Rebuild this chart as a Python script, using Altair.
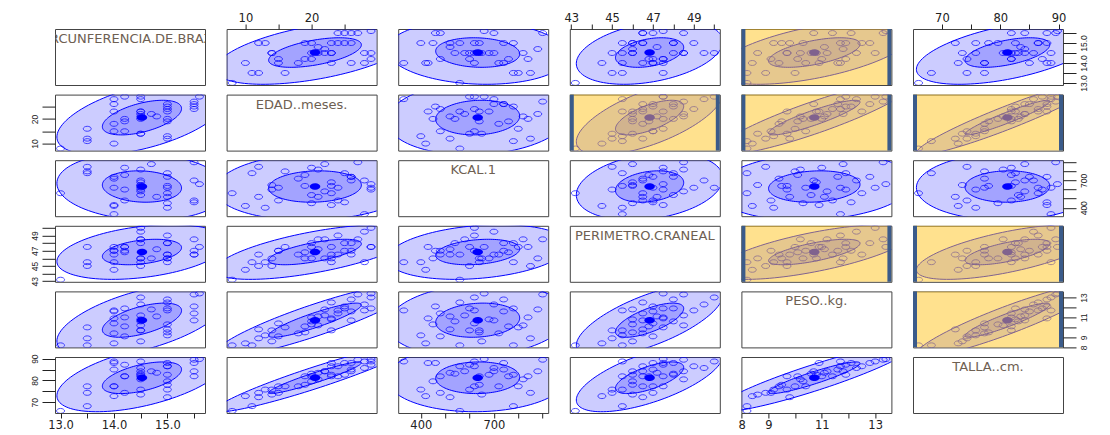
import json
import altair as alt
import numpy as np
import pandas as pd

# ---------------- data ----------------
var_names = ["CIRCUNFERENCIA.DE.BRAZO", "EDAD..meses.", "KCAL.1",
             "PERIMETRO.CRANEAL", "PESO..kg.", "TALLA..cm."]

circunferencia = [13.0, 13.5, 14.0, 14.5, 13.5, 14.2, 15.0, 14.0, 14.5, 15.0,
                  13.5, 14.5, 14.2, 15.0, 14.0, 14.5, 15.5, 14.0, 14.5, 14.2,
                  14.5, 15.5, 14.0, 15.0, 14.7, 14.2, 15.0, 15.5, 14.5, 15.0,
                  15.0, 14.5, 15.5, 15.6, 14.0, 14.5, 15.0, 14.8]
edad = [8, 11, 10, 14, 12, 15, 13, 18, 14, 12,
        16, 23, 19, 20, 15, 20, 26, 23, 23, 20,
        22, 24, 26, 24, 22, 29, 25, 25, 28, 23,
        26, 29, 27, 29, 28, 21, 19, 21]
kcal = [560, 780, 420, 650, 850, 480, 400, 720, 600, 520,
        800, 640, 760, 450, 620, 540, 700, 430, 680, 840,
        580, 480, 740, 620, 880, 600, 780, 460, 700, 560,
        740, 620, 900, 660, 330, 820, 640, 520]
perimetro = [43.2, 45.5, 44.5, 46.0, 45.0, 47.0, 45.5, 46.5, 45.0, 46.5,
             47.5, 45.5, 46.8, 46.0, 47.0, 48.0, 46.5, 47.5, 46.0, 47.5,
             48.5, 46.5, 47.0, 49.0, 46.0, 47.5, 48.0, 47.0, 49.5, 46.5,
             48.0, 50.0, 48.5, 47.5, 45.5, 48.5, 46.0, 47.2]
peso = [8.2, 8.2, 8.4, 8.6, 8.9, 9.1, 9.2, 9.4, 9.7, 9.8,
        10.0, 9.7, 10.1, 10.3, 10.4, 10.6, 10.7, 10.9, 10.8, 11.0,
        11.2, 11.4, 11.6, 11.7, 11.8, 11.9, 11.9, 12.1, 12.3, 12.5,
        12.8, 13.0, 13.3, 13.4, 11.7, 10.2, 9.5, 11.1]
talla = [66.0, 68.2, 72.8, 73.5, 74.3, 74.3, 75.8, 77.3, 75.8, 72.3,
         77.3, 81.9, 81.9, 79.6, 77.3, 83.1, 84.2, 88.0, 82.6, 81.9,
         84.2, 81.9, 85.0, 86.5, 84.2, 87.2, 82.6, 88.0, 85.7, 86.5,
         88.0, 88.7, 89.5, 89.8, 88.7, 80.5, 78.0, 83.5]

columns = [circunferencia, edad, kcal, perimetro, peso, talla]

tick_values = [[13.0, 13.5, 14.0, 14.5, 15.0, 15.5],
               [10, 15, 20, 25],
               [400, 500, 600, 700, 800, 900],
               [43, 44, 45, 46, 47, 48, 49, 50],
               [8, 9, 10, 11, 12, 13],
               [70, 75, 80, 85, 90]]
tick_labels_shown = [[13.0, 14.0, 15.0], [10, 20], [400, 700],
                     [43, 45, 47, 49], [8, 9, 11, 13], [70, 80, 90]]
label_formats = [".1f", "d", "d", "d", "d", "d"]

highlighted_panels = [(0, 4), (1, 3), (1, 4), (1, 5), (3, 4), (3, 5), (4, 5)]
ellipse_radii = [2.55, 1.187]   # 95% and 50% data ellipses

# ---------------- styling ----------------
W, H = 150, 56
BLUE = "#0000FF"
YELLOW = "#FFC31E"
BAR = "#3B5B8A"
PT_SHAPE = "M -1 0 A 1 0.62 0 1 0 1 0 A 1 0.62 0 1 0 -1 0 Z"


def domain(v):
    lo, hi = float(min(v)), float(max(v))
    r = hi - lo
    return [lo - 0.04 * r, hi + 0.04 * r]


domains = [domain(c) for c in columns]


def label_expr(k):
    return (f"indexof({json.dumps(tick_labels_shown[k])}, datum.value) >= 0 ? "
            f"format(datum.value, '{label_formats[k]}') : ''")


def x_axis(k, orient):
    return alt.Axis(orient=orient, values=tick_values[k], labelExpr=label_expr(k),
                    tickSize=5, domain=False, grid=False, title=None,
                    labelFont="DejaVu Sans", labelFontSize=11.5, labelColor="#222",
                    tickColor="#222", labelPadding=1, labelFlush=False,
                    labelOverlap=False)


def y_axis(k, orient):
    return alt.Axis(orient=orient, values=tick_values[k], labelExpr=label_expr(k),
                    tickSize=13, domain=False, grid=False, title=None,
                    labelFont="Liberation Sans", labelFontSize=8.5, labelColor="#222",
                    tickColor="#222", labelPadding=3, labelFlush=False,
                    labelOverlap=False, labelAngle=270, labelAlign="center",
                    labelBaseline="bottom" if orient == "left" else "top")


def ellipse_frames(xv, yv, rad):
    mx, my = xv.mean(), yv.mean()
    S = np.cov(np.vstack([xv, yv]))
    sxx, syy, sxy = S[0, 0], S[1, 1], S[0, 1]
    th = np.linspace(0, np.pi, 90)
    dx = rad * np.sqrt(sxx) * np.cos(th)
    cy = my + sxy / sxx * dx
    half = np.sqrt(np.clip(rad ** 2 - dx ** 2 / sxx, 0, None) * (syy - sxy ** 2 / sxx))
    area = pd.DataFrame({"x": mx + dx, "y": cy - half, "y2": cy + half})
    L = np.linalg.cholesky(S)
    t = np.linspace(0, 2 * np.pi, 121)
    pts = np.array([mx, my])[:, None] + rad * L @ np.vstack([np.cos(t), np.sin(t)])
    outline = pd.DataFrame({"x": pts[0], "y": pts[1], "t": np.arange(len(t))})
    return area, outline


one = pd.DataFrame({"a": [0]})


def panel(i, j):
    if i == j:
        return alt.Chart(pd.DataFrame({"label": [var_names[i]]})).mark_text(
            clip=True, font="DejaVu Sans", fontSize=13, color="#6e6052",
            baseline="top", align="center"
        ).encode(x=alt.value(W / 2), y=alt.value(4), text="label:N").properties(
            width=W, height=H)

    xv = np.array(columns[j], dtype=float)
    yv = np.array(columns[i], dtype=float)

    if i == 0 and j % 2 == 1:
        xax = x_axis(j, "top")
    elif i == 5 and j % 2 == 0:
        xax = x_axis(j, "bottom")
    else:
        xax = None
    if j == 0 and i % 2 == 1:
        yax = y_axis(i, "left")
    elif j == 5 and i % 2 == 0:
        yax = y_axis(i, "right")
    else:
        yax = None

    X = alt.X("x:Q", scale=alt.Scale(domain=domains[j], nice=False, zero=False), axis=xax)
    Y = alt.Y("y:Q", scale=alt.Scale(domain=domains[i], nice=False, zero=False), axis=yax)

    layers = []
    outlines = []
    for rad in ellipse_radii:
        area, outl = ellipse_frames(xv, yv, rad)
        layers.append(alt.Chart(area).mark_area(clip=True, color=BLUE, opacity=0.2)
                      .encode(x=X, y=Y, y2="y2:Q"))
        outlines.append(alt.Chart(outl).mark_line(clip=True, color=BLUE, strokeWidth=1)
                        .encode(x=X, y=Y, order="t:Q"))
    layers += outlines
    pts = pd.DataFrame({"x": xv, "y": yv})
    layers.append(alt.Chart(pts).mark_point(clip=True, shape=PT_SHAPE, size=64,
                                            color=BLUE, strokeWidth=1, filled=False)
                  .encode(x=X, y=Y))
    ctr = pd.DataFrame({"x": [xv.mean()], "y": [yv.mean()]})
    layers.append(alt.Chart(ctr).mark_point(clip=True, shape=PT_SHAPE, size=110,
                                            color=BLUE, filled=True, opacity=1)
                  .encode(x=X, y=Y))
    if (i, j) in highlighted_panels:
        layers.append(alt.Chart(one).mark_rect(color=YELLOW, opacity=0.5).encode(
            x=alt.value(0), x2=alt.value(W), y=alt.value(0), y2=alt.value(H)))
        for xp in (2, W - 2):
            layers.append(alt.Chart(one).mark_rule(color=BAR, strokeWidth=4).encode(
                x=alt.value(xp), y=alt.value(0), y2=alt.value(H)))
    return alt.layer(*layers).properties(width=W, height=H)


panels = [panel(i, j) for i in range(6) for j in range(6)]
chart = alt.concat(*panels, columns=6, spacing={"row": 9.6, "column": 21.6},
                   bounds="flush").properties(
    padding={"left": 21, "top": 3, "right": 5, "bottom": 0}
).configure_view(stroke="#444", strokeWidth=1)

chart.save("out.html", embed_options={"renderer": "svg", "actions": False})
